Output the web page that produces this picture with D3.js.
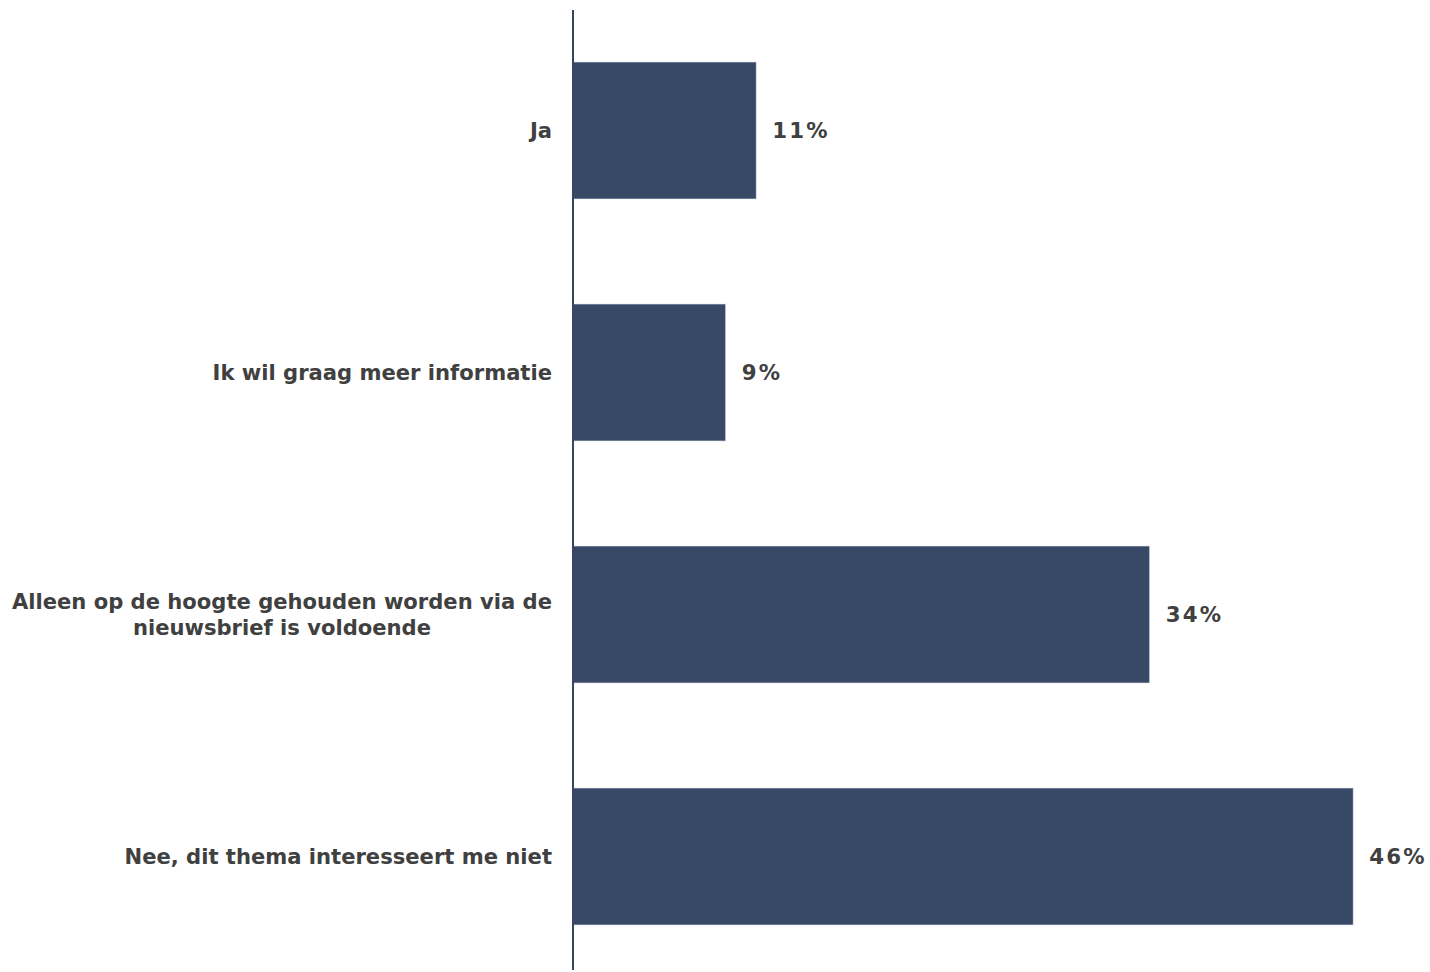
<!DOCTYPE html>
<html><head><meta charset="utf-8">
<script src="https://cdn.jsdelivr.net/npm/d3@7"></script>
<style>body{margin:0;background:#fff}svg{display:block}</style>
</head><body>
<svg id="c" width="1430" height="972"></svg>
<script>
const categories = [
  ["Ja"],
  ["Ik wil graag meer informatie"],
  ["Alleen op de hoogte gehouden worden via de", "nieuwsbrief is voldoende"],
  ["Nee, dit thema interesseert me niet"]
];
const values = [10.8, 9.0, 34.0, 46.0];
const valueLabels = ["11%", "9%", "34%", "46%"];

const svg = d3.select("#c");
const y = d3.scaleBand().domain(d3.range(categories.length)).range([9.5, 977.5]).paddingInner(0.434).paddingOuter(0.217);
const x = d3.scaleLinear().domain([0, 50]).range([573, 573 + 50 * 16.96]);

svg.selectAll("rect.bar").data(values).join("rect")
  .attr("class", "bar")
  .attr("x", x(0))
  .attr("y", (d, i) => y(i))
  .attr("width", d => x(d) - x(0))
  .attr("height", y.bandwidth())
  .attr("fill", "#384867")
  .attr("stroke", "#dde2ea").attr("stroke-width", 0.6);

svg.append("line").attr("x1", x(0)).attr("x2", x(0)).attr("y1", 10).attr("y2", 970)
  .attr("stroke", "#3a4560").attr("stroke-width", 2);

const font = "'DejaVu Sans', Verdana, sans-serif";
svg.selectAll("text.val").data(values).join("text")
  .attr("class", "val")
  .attr("x", d => x(d) + 16)
  .attr("y", (d, i) => y(i) + y.bandwidth() / 2)
  .attr("dy", "0.35em")
  .attr("font-family", font).attr("font-weight", "bold").attr("font-size", 21.3)
  .attr("letter-spacing", 2.2)
  .attr("fill", "#404040")
  .text((d, i) => valueLabels[i]);

const lh = 26;
categories.forEach((lines, i) => {
  const cy = y(i) + y.bandwidth() / 2;
  const t = svg.append("text")
    .attr("font-family", font).attr("font-weight", "bold").attr("font-size", 21.1)
    .attr("fill", "#404040");
  if (lines.length === 1) {
    t.append("tspan").attr("x", 552).attr("y", cy).attr("dy", "0.35em")
      .attr("text-anchor", "end").text(lines[0]);
  } else {
    t.append("tspan").attr("x", 552).attr("y", cy - lh / 2).attr("dy", "0.35em")
      .attr("text-anchor", "end").text(lines[0]);
    const tmp = t.select("tspan").node().getComputedTextLength();
    t.append("tspan").attr("x", 552 - tmp / 2).attr("y", cy + lh / 2).attr("dy", "0.35em")
      .attr("text-anchor", "middle").text(lines[1]);
  }
});
</script>
</body></html>
